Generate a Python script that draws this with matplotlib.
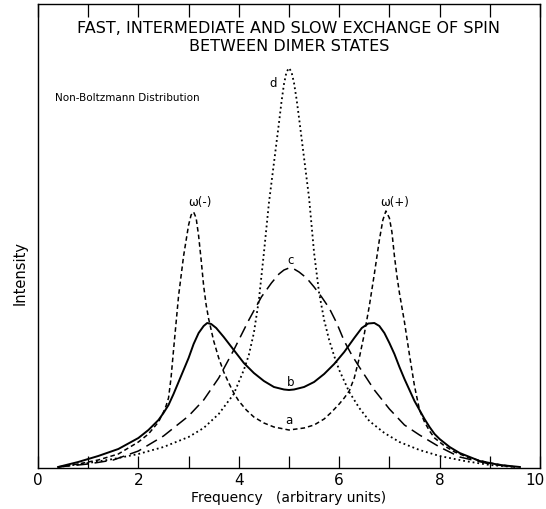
import numpy as np
import matplotlib
matplotlib.use('Agg')
import matplotlib.pyplot as plt
from matplotlib.transforms import ScaledTranslation

# values (intensity in arbitrary units)
x_a = [0.4, 0.8, 1.2, 1.6, 2.0, 2.2, 2.4, 2.5, 2.55, 2.6, 2.65, 2.7, 2.75, 2.8, 2.9, 3.0,
       3.05, 3.1, 3.15, 3.2, 3.25, 3.3, 3.35, 3.4, 3.5, 3.6, 3.7, 3.8, 3.9, 4.0, 4.15, 4.3,
       4.5, 4.7, 5.0, 5.3, 5.5, 5.7, 5.85, 6.0, 6.1, 6.2, 6.3, 6.4, 6.5, 6.6, 6.7, 6.8,
       6.87, 6.93, 7.0, 7.05, 7.1, 7.15, 7.2, 7.3, 7.4, 7.5, 7.6, 7.7, 7.8, 7.9, 8.1, 8.3,
       8.6, 9.0, 9.5]
y_a = [1, 4, 8, 14, 26, 34, 46, 56, 62, 70, 90, 118, 145, 172, 212, 243,
       253, 256, 250, 232, 208, 182, 163, 149, 127, 110, 96, 85, 75, 67, 58, 51,
       45, 41, 38, 40, 43, 49, 56, 64, 70, 77, 90, 110, 134, 162, 194, 228,
       248, 257, 250, 236, 212, 192, 175, 146, 113, 82, 58, 46, 37, 30, 22, 16,
       10, 5, 1]

x_b = [0.4, 0.8, 1.2, 1.6, 2.0, 2.2, 2.4, 2.5, 2.6, 2.7, 2.8, 2.9, 3.0, 3.1, 3.2, 3.3,
       3.37, 3.45, 3.55, 3.7, 3.9, 4.1, 4.3, 4.5, 4.7, 4.9, 5.0, 5.1, 5.3, 5.5, 5.7, 5.9,
       6.1, 6.3, 6.45, 6.58, 6.7, 6.8, 6.9, 7.0, 7.1, 7.2, 7.3, 7.4, 7.5, 7.6, 7.7, 7.8,
       7.9, 8.0, 8.2, 8.4, 8.8, 9.2, 9.6]
y_b = [1, 6, 12, 19, 30, 38, 48, 55, 63, 74, 86, 98, 110, 124, 135, 142,
       145, 144, 140, 131, 118, 105, 95, 87, 81, 78.5, 78, 78.5, 81, 86, 94, 104,
       116, 130, 140, 144.5, 145, 142, 135, 125, 114, 101, 89, 78, 67, 58, 49, 41,
       34, 29, 21, 15, 7, 3, 1]

x_c = [0.4, 1.0, 1.5, 2.0, 2.5, 3.0, 3.3, 3.6, 3.9, 4.2, 4.45, 4.65, 4.8, 4.9, 5.0, 5.1,
       5.2, 5.35, 5.5, 5.65, 5.8, 5.95, 6.1, 6.25, 6.4, 6.7, 7.0, 7.3, 7.6, 8.0, 8.4, 9.0,
       9.5]
y_c = [1, 4, 8, 17, 32, 52, 68, 90, 118, 148, 171, 185, 194, 198, 200, 199,
       196, 190, 181, 171, 160, 145, 127, 113, 101, 78, 59, 43, 33, 21, 11, 4,
       1]

x_d = [0.4, 1.0, 1.5, 2.0, 2.5, 3.0, 3.3, 3.6, 3.9, 4.1, 4.2, 4.3, 4.4, 4.5, 4.6, 4.7,
       4.8, 4.85, 4.9, 4.95, 5.0, 5.05, 5.1, 5.15, 5.2, 5.3, 5.4, 5.5, 5.6, 5.7, 5.8, 5.9,
       6.0, 6.2, 6.4, 6.6, 6.9, 7.2, 7.6, 8.0, 8.5, 9.0, 9.5]
y_d = [1, 5, 9, 14, 21, 31, 40, 54, 74, 98, 113, 135, 168, 215, 265, 305,
       345, 366, 384, 396, 400, 396, 385, 369, 350, 310, 270, 215, 175, 148, 128, 112,
       98, 76, 60, 47, 35, 26, 18, 12, 7, 3, 1]

x_ticks = [0, 1, 2, 3, 4, 5, 6, 7, 8, 9, 10]
x_ticklabels = ['0', '', '2', '', '4', '', '6', '', '8', '', '10']

fig = plt.figure(figsize=(5.46, 5.10), dpi=100)
ax = fig.add_axes([0.0696, 0.0804, 0.9194, 0.9098])

ax.plot(x_a, y_a, color='black', lw=1.1, dashes=(3, 2))
ax.plot(x_b, y_b, color='black', lw=1.4)
ax.plot(x_c, y_c, color='black', lw=1.1, dashes=(8, 4))
ax.plot(x_d, y_d, color='black', lw=1.3, ls=':')

ax.set_xlim(0, 10)
ax.set_ylim(0, 464)
ax.set_xticks(x_ticks)
ax.set_xticklabels(x_ticklabels, fontsize=11)
ax.set_yticks([])
ax.tick_params(axis='x', direction='in', length=9, width=0.9, top=True, pad=3)
for s in ax.spines.values():
    s.set_linewidth(1.0)
# keep the "10" inside the picture
lab = ax.get_xticklabels()[-1]
lab.set_transform(lab.get_transform() + ScaledTranslation(-5 / 100, 0, fig.dpi_scale_trans))

ax.set_xlabel('Frequency   (arbitrary units)', fontsize=10, labelpad=2)
fig.text(20 / 546, 1 - 273 / 510, 'Intensity', rotation=90, ha='center', va='center', fontsize=10.5)

ax.text(5.0, 431, 'FAST, INTERMEDIATE AND SLOW EXCHANGE OF SPIN\nBETWEEN DIMER STATES',
        ha='center', va='center', fontsize=11.5, linespacing=1.25)
ax.text(0.34, 371, 'Non-Boltzmann Distribution', ha='left', va='center', fontsize=7.5)

ax.text(3.22, 266, '\u03c9(-)', ha='center', va='center', fontsize=8.5)
ax.text(7.1, 266, '\u03c9(+)', ha='center', va='center', fontsize=8.5)
ax.text(5.0, 48, 'a', ha='center', va='center', fontsize=8.5)
ax.text(5.03, 86, 'b', ha='center', va='center', fontsize=8.5)
ax.text(5.03, 208, 'c', ha='center', va='center', fontsize=8.5)
ax.text(4.68, 385, 'd', ha='center', va='center', fontsize=8.5)

fig.savefig('out.png', dpi=100)
